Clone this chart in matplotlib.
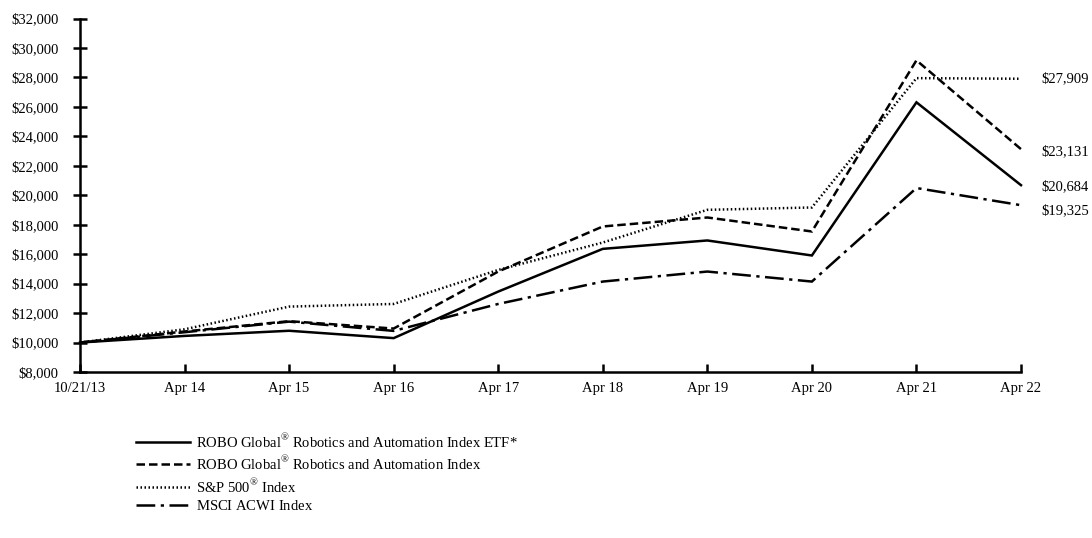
import matplotlib
matplotlib.use("Agg")
import matplotlib.pyplot as plt
import matplotlib.ticker as mticker

plt.rcParams['font.family'] = ['Liberation Serif', 'DejaVu Serif']
plt.rcParams['mathtext.fontset'] = 'custom'
plt.rcParams['mathtext.rm'] = 'Liberation Serif'

# data
periods = ['10/21/13', 'Apr 14', 'Apr 15', 'Apr 16', 'Apr 17',
           'Apr 18', 'Apr 19', 'Apr 20', 'Apr 21', 'Apr 22']
etf = [10000, 10450, 10800, 10300, 13460, 16360, 16930, 15910, 26310, 20684]
robo_index = [10000, 10750, 11450, 10950, 14820, 17880, 18490, 17540, 29160, 23131]
sp500 = [10000, 10900, 12440, 12620, 14930, 16790, 19010, 19170, 27950, 27909]
msci = [10000, 10700, 11420, 10790, 12620, 14140, 14820, 14140, 20490, 19325]

# the empty superscript on the last label keeps the legend rows evenly spaced
names = [r'ROBO Global$^{®}$ Robotics and Automation Index ETF*',
         r'ROBO Global$^{®}$ Robotics and Automation Index',
         r'S&P 500$^{®}$ Index',
         r'MSCI ACWI Index$^{\,}$']
styles = ['-', (0, (3.4, 1.6)), (0, (0.6, 1.0)), (0, (7.5, 2.2, 1.3, 2.2))]
end_offsets = [-1, -2, 0, -4]  # small nudges of end labels, points

FS = 10.5

fig = plt.figure(figsize=(10.92, 5.38), dpi=100)
ax = fig.add_axes([80 / 1092, 1 - 372 / 538, (1021 - 80) / 1092, (372 - 18.5) / 538])

x = list(range(len(periods)))
series = [etf, robo_index, sp500, msci]
for vals, name, ls, off in zip(series, names, styles, end_offsets):
    ax.plot(x, vals, color='black', lw=1.8, linestyle=ls, label=name,
            solid_joinstyle='miter', dash_joinstyle='miter', clip_on=False)
    ax.annotate(f'${vals[-1]:,}', xy=(x[-1], vals[-1]), xytext=(15, off),
                textcoords='offset points', va='center', ha='left', fontsize=FS)

ax.set_xlim(0, len(periods) - 1)
ax.set_ylim(8000, 32000)
ax.set_xticks(x)
ax.set_xticklabels(periods, fontsize=FS)
ax.yaxis.set_major_locator(mticker.MultipleLocator(2000))
ax.yaxis.set_major_formatter(mticker.FuncFormatter(lambda v, p: f'${v:,.0f}'))
for lab in ax.get_yticklabels():
    lab.set_fontsize(FS)

for s in ['top', 'right']:
    ax.spines[s].set_visible(False)
for s in ['left', 'bottom']:
    ax.spines[s].set_linewidth(1.8)

ax.tick_params(axis='y', direction='inout', length=10.5, width=1.8, pad=10, labelsize=FS)
ax.tick_params(axis='x', direction='in', length=5.5, width=1.8, pad=7, labelsize=FS)

ax.legend(loc='upper left', bbox_to_anchor=(136 / 1092, 1 - 432 / 538),
          bbox_transform=fig.transFigure, frameon=False, fontsize=FS,
          handlelength=3.7, handletextpad=0.4, labelspacing=0.3,
          borderpad=0, borderaxespad=0)

fig.savefig('out.png', dpi=100)
